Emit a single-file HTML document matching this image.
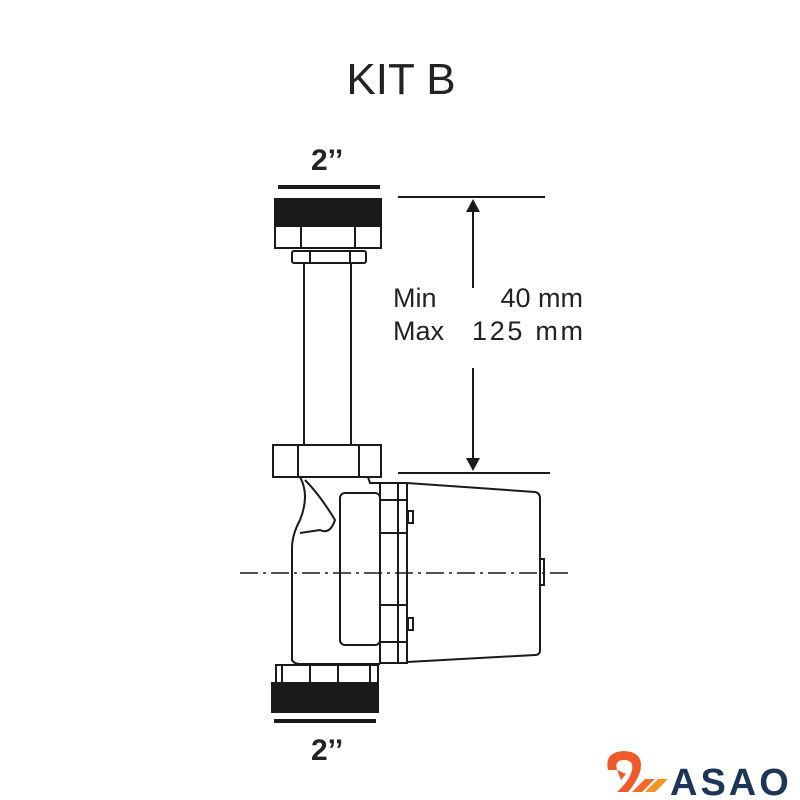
<!DOCTYPE html>
<html><head><meta charset="utf-8"><style>html,body{margin:0;padding:0;background:#fff}svg{display:block}</style></head>
<body>
<svg width="800" height="800" viewBox="0 0 800 800" xmlns="http://www.w3.org/2000/svg" font-family="Liberation Sans, sans-serif">
<text x="401" y="94" font-size="44" text-anchor="middle" fill="#222">KIT B</text>
<text x="311" y="170" font-size="30" font-weight="bold" fill="#222">2’’</text>
<g stroke="#1a1a1a" fill="none" stroke-width="2">
<line x1="278" y1="187" x2="380" y2="187" stroke-width="4"/>
<rect x="275" y="199" width="106" height="27" fill="#1a1a1a"/>
<rect x="275" y="226" width="106" height="22" fill="#fff"/>
<line x1="301" y1="226" x2="301" y2="248"/><line x1="355" y1="226" x2="355" y2="248"/>
<rect x="292" y="251" width="74" height="12" rx="2" fill="#fff"/>
<line x1="310" y1="251" x2="310" y2="263"/><line x1="350" y1="251" x2="350" y2="263"/>
<line x1="304" y1="263" x2="304" y2="445"/><line x1="351" y1="263" x2="351" y2="445"/>
<rect x="273" y="445" width="108" height="32" fill="#fff"/>
<line x1="298" y1="445" x2="298" y2="477"/><line x1="359" y1="445" x2="359" y2="477"/>
<line x1="398" y1="197" x2="545" y2="197"/>
<line x1="398" y1="473" x2="550" y2="473"/>
<line x1="473" y1="205" x2="473" y2="288"/><line x1="473" y1="368" x2="473" y2="465"/>
<path d="M300 477 Q310 495 300 520 Q292 535 292 548 L292 660 Q294 664 300 664 L380 664"/>
<path d="M305 480 Q320 495 335 520 Q330 535 320 530 L300 533"/>
<path d="M368 477 L370 483 L407 483"/>
<rect x="340" y="493" width="40" height="152" rx="5" fill="#fff"/>
<rect x="380" y="483" width="18" height="180"/>
<rect x="398" y="483" width="9" height="180"/>
<line x1="380" y1="500" x2="407" y2="500"/><line x1="380" y1="533" x2="407" y2="533"/>
<line x1="380" y1="605" x2="407" y2="605"/><line x1="380" y1="642" x2="407" y2="642"/>
<path d="M407 483 L535 492 Q540 493 540 498 L540 650 Q540 655 535 655 L407 662"/>
<rect x="408" y="511" width="5" height="12"/><rect x="408" y="618" width="5" height="12"/>
<rect x="540" y="559" width="4" height="26"/>
<line x1="240" y1="573" x2="570" y2="573" stroke-width="1.5" stroke-dasharray="18,5,3,5"/>
<rect x="276" y="665" width="102" height="18" fill="#fff"/>
<line x1="282" y1="665" x2="282" y2="683"/><line x1="310" y1="665" x2="310" y2="683"/><line x1="338" y1="665" x2="338" y2="683"/><line x1="370" y1="665" x2="370" y2="683"/>
<rect x="272" y="683" width="106" height="29" fill="#1a1a1a"/>
<line x1="274" y1="721" x2="376" y2="721" stroke-width="4"/>
</g>
<path d="M466 212 L473 199 L480 212 Z" fill="#1a1a1a"/>
<path d="M466 458 L473 471 L480 458 Z" fill="#1a1a1a"/>
<text x="393" y="307" font-size="27" fill="#222">Min</text>
<text x="583" y="307" font-size="27" fill="#222" text-anchor="end">40 mm</text>
<text x="393" y="340" font-size="27" fill="#222">Max</text>
<text x="472" y="340" font-size="27" fill="#222" textLength="111">125 mm</text>
<text x="311" y="760" font-size="30" font-weight="bold" fill="#222">2’’</text>
<path d="M608 770 Q604 752 624 751 Q645 752 640 772 Q636 783 628 792 L617 792 Q630 780 632 770 Q634 760 624 760 Q614 760 617 770 Z" fill="#f05a28"/>
<path d="M617 770 L626 774 L621 780 Z" fill="#f05a28"/>
<path d="M632 792 L645 779 L655 779 L642 792 Z" fill="#f26a2a"/>
<path d="M645 792 L658 779 L668 779 L655 792 Z" fill="#f7941d"/>
<text x="670" y="795" font-size="38" font-weight="bold" fill="#1d3557" letter-spacing="3">ASAO</text>
</svg>
</body></html>
